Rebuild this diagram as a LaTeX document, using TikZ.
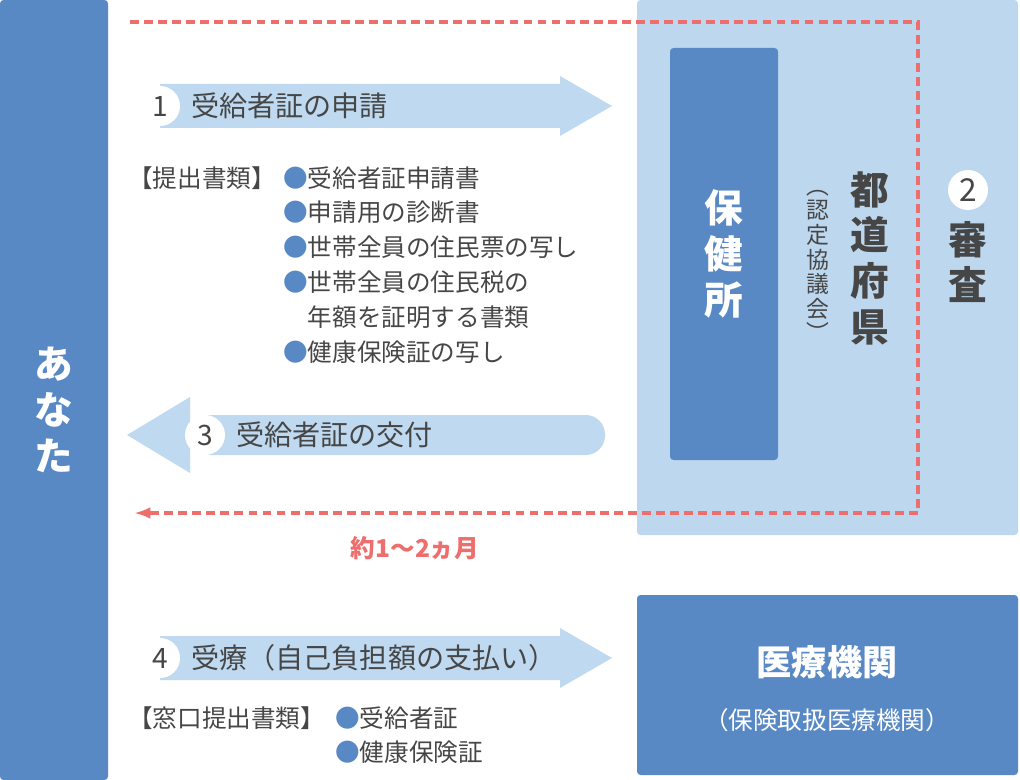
\documentclass[tikz,border=0pt]{standalone}
\usepackage{fontspec}
\setmainfont{Noto Sans CJK JP}
\usepackage{tikz}
\usetikzlibrary{positioning}
\definecolor{DarkBlue}{RGB}{88,137,197}
\definecolor{PaleBlue}{RGB}{188,215,238}
\definecolor{ArrowBlue}{RGB}{190,217,240}
\definecolor{DashRed}{RGB}{238,110,110}
\definecolor{TextGray}{RGB}{70,70,70}
\newcommand{\bl}{{\color{DarkBlue}●}}
\begin{document}
\begin{tikzpicture}[x=0.02cm,y=-0.02cm,
   blk/.style={fill=DarkBlue,draw=none,rounded corners=2pt},
   vtext/.style={align=center,font=\bfseries\fontsize{22}{26}\selectfont,inner sep=0pt},
   num/.style={circle,fill=white,minimum size=0.8cm,inner sep=0pt,font=\fontsize{16}{16}\selectfont,text=TextGray},
   lbl/.style={anchor=west,font=\fontsize{16}{16}\selectfont,text=TextGray,inner sep=0pt},
   item/.style={anchor=west,font=\fontsize{14}{17}\selectfont,text=TextGray,inner sep=0pt,align=left},
   fat/.style={fill=ArrowBlue,draw=none}]
\useasboundingbox (0,0) rectangle (1020,780);
% blocks
\fill[blk] (0,0) rectangle (108,780);
\node[vtext,text=white] (you) at (54,410) {あ\\な\\た};
\fill[PaleBlue,rounded corners=2pt] (637,0) rectangle (1018,535);
\fill[blk] (670,48) rectangle (778,460);
\node[vtext,text=white] (hoken) at (724,254) {保\\健\\所};
\node[vtext,text=TextGray] (pref) at (870,258) {都\\道\\府\\県};
\node[align=center,font=\fontsize{13}{14}\selectfont,text=TextGray,inner sep=0pt] (kyogi) at (818,266) {︵\\認\\定\\協\\議\\会\\︶};
\node[num,font=\fontsize{18}{18}\selectfont] (n2) at (968,190) {2};
\node[vtext,text=TextGray,below=6pt of n2] (shinsa) {審\\査};
\fill[blk] (637,595) rectangle (1018,775);
\node[font=\bfseries\fontsize{20}{20}\selectfont,text=white] (iryo) at (827,662) {医療機関};
\node[font=\fontsize{14}{14}\selectfont,text=white,below=10pt of iryo] (iryo2) {（保険取扱医療機関）};
% dashed loop
\coordinate (d0) at (130,22);
\coordinate (d1) at (918,22);
\coordinate (d2) at (918,513);
\coordinate (d3) at (135,513);
\draw[DashRed,line width=2pt,dash pattern=on 5pt off 3pt,-latex] (d0) -- (d1) -- (d2) -- (d3);
\node[text=DashRed,font=\bfseries\fontsize{14}{14}\selectfont] (term) at (415,548) {約1～2ヵ月};
% arrows
\fill[fat] (160,84) -- (560,84) -- (560,76) -- (612,106) -- (560,136) -- (560,128) -- (160,128) -- cycle;
\node[num] (n1) at (160,106) {1};
\node[lbl,right=6pt of n1] (step1) {受給者証の申請};
\fill[fat,rounded corners=11pt] (190,415) rectangle (605,455);
\fill[fat] (190,397) -- (127,435) -- (190,473) -- cycle;
\node[num] (n3) at (205,435) {3};
\node[lbl,right=6pt of n3] (step3) {受給者証の交付};
\fill[fat] (160,636) -- (560,636) -- (560,628) -- (612,658) -- (560,688) -- (560,680) -- (160,680) -- cycle;
\node[num] (n4) at (160,658) {4};
\node[lbl,right=6pt of n4] (step4) {受療（自己負担額の支払い）};
% document lists
\node[item] (docs) at (128,178) {【提出書類】};
\node[item,anchor=north west,font=\fontsize{14}{19.8}\selectfont] (doclist) at (283,166)
  {\bl 受給者証申請書\\\bl 申請用の診断書\\\bl 世帯全員の住民票の写し\\\bl 世帯全員の住民税の\\\hspace{1em}年額を証明する書類\\\bl 健康保険証の写し};
\node[item] (mado) at (128,718) {【窓口提出書類】};
\node[item,anchor=north west,font=\fontsize{14}{19.3}\selectfont] (madolist) at (335,706) {\bl 受給者証\\\bl 健康保険証};
\end{tikzpicture}
\end{document}
